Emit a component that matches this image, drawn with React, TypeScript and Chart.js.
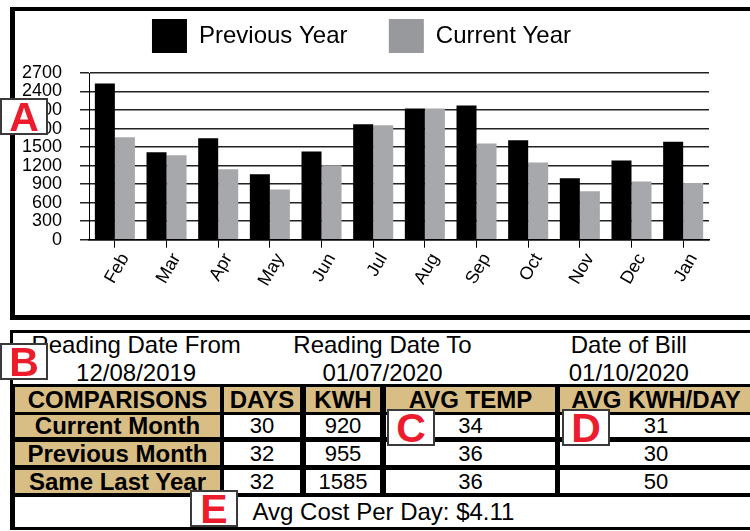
import React, { useEffect, useRef } from "react";
import { Chart, registerables } from "chart.js";

Chart.register(...registerables);

const months = ["Feb", "Mar", "Apr", "May", "Jun", "Jul", "Aug", "Sep", "Oct", "Nov", "Dec", "Jan"];
const previousYear = [2530, 1415, 1645, 1060, 1430, 1870, 2125, 2175, 1610, 995, 1285, 1585];
const currentYear = [1660, 1370, 1140, 815, 1205, 1855, 2125, 1560, 1250, 785, 945, 920];
const seriesLabels = ["Previous Year", "Current Year"];
const yMin = 0;
const yMax = 2700;
const yStep = 300;

const readingHeaders = ["Reading Date From", "Reading Date To", "Date of Bill"];
const readingDates = ["12/08/2019", "01/07/2020", "01/10/2020"];
const comparisonHeaders = ["COMPARISONS", "DAYS", "KWH", "AVG TEMP", "AVG KWH/DAY"];
const comparisonRows = ["Current Month", "Previous Month", "Same Last Year"];
const daysValues = [30, 32, 32];
const kwhValues = [920, 955, 1585];
const avgTempValues = [34, 36, 36];
const avgKwhPerDay = [31, 30, 50];
const avgCostText = "Avg Cost Per Day: $4.11";

const FONT = "'Liberation Sans', Arial, Helvetica, sans-serif";
const TAN = "#d8bd84";
const RED = "#ec1c2c";

const colLeft = [15, 224, 306, 386, 560];
const colRight = [220, 300, 380, 555, 752];
const rowTop = [387, 415, 442, 470];
const rowBottom = [412, 437, 465, 493];

const CANVAS_LEFT = -3;
const CANVAS_TOP = 11;
const CANVAS_W = 713;
const CANVAS_H = 304;

function BarChart() {
  const ref = useRef<HTMLCanvasElement>(null);
  useEffect(() => {
    if (!ref.current) return;
    Chart.defaults.font.family = FONT;
    const legendTweak = {
      id: "legendTweak",
      beforeInit(chart: any) {
        const legend = chart.legend;
        if (!legend) return;
        const fit = legend.fit;
        legend.fit = function () {
          fit.call(this);
          this.height += 10;
        };
        const draw = legend.draw;
        legend.draw = function () {
          this.ctx.save();
          this.ctx.translate(5, 0);
          draw.call(this);
          this.ctx.restore();
        };
      },
    };
    const chart = new Chart(ref.current, {
      type: "bar",
      data: {
        labels: months,
        datasets: [
          { label: seriesLabels[0], data: previousYear, backgroundColor: "#000000", borderWidth: 0 },
          { label: seriesLabels[1], data: currentYear, backgroundColor: "#a7a8ab", borderWidth: 0 },
        ],
      },
      plugins: [legendTweak],
      options: {
        responsive: false,
        animation: false,
        devicePixelRatio: 1,
        layout: { padding: { left: 7, right: 1, top: 0, bottom: 23 } },
        datasets: { bar: { categoryPercentage: 0.775, barPercentage: 1 } },
        plugins: {
          tooltip: { enabled: false },
          legend: {
            position: "top",
            labels: {
              boxWidth: 35,
              boxHeight: 34,
              padding: 8,
              color: "#000",
              font: { size: 24, family: FONT },
              generateLabels: (c: any) => {
                const items = (Chart.defaults.plugins.legend.labels as any).generateLabels(c);
                items[0].text = items[0].text + "     ";
                if (items[1]) items[1].fillStyle = "#98999c";
                return items.map((i: any) => ({ ...i, lineWidth: 0 }));
              },
            },
          },
        },
        scales: {
          x: {
            grid: { display: true, drawOnChartArea: false, offset: false, tickLength: 8, color: "#000" },
            border: { color: "#000", width: 1.5 },
            ticks: {
              color: "#000",
              font: { size: 18, family: FONT },
              minRotation: 60,
              maxRotation: 60,
              autoSkip: false,
              padding: 2,
              labelOffset: 10,
            },
          },
          y: {
            min: yMin,
            max: yMax,
            ticks: {
              stepSize: yStep,
              autoSkip: false,
              color: "#000",
              font: { size: 18, family: FONT },
              padding: 18,
              callback: (v: any) => String(v),
            },
            grid: { color: "#222", lineWidth: 1.5, tickLength: 9 },
            border: { color: "#000" },
          },
        },
      },
    } as any);
    return () => chart.destroy();
  }, []);
  return (
    <canvas
      ref={ref}
      width={CANVAS_W}
      height={CANVAS_H}
      style={{ position: "absolute", left: CANVAS_LEFT, top: CANVAS_TOP, width: CANVAS_W, height: CANVAS_H }}
    />
  );
}

function Marker({ letter, left, top }: { letter: string; left: number; top: number }) {
  return (
    <div
      style={{
        position: "absolute",
        left,
        top,
        width: 44,
        height: 33,
        border: "2.5px solid #3a3a3a",
        background: "#fff",
        color: RED,
        fontWeight: 700,
        fontSize: 41,
        lineHeight: "34px",
        textAlign: "center",
        fontFamily: FONT,
        zIndex: 5,
      }}
    >
      {letter}
    </div>
  );
}

function Cell({
  left,
  top,
  width,
  height,
  bg,
  bold,
  size,
  children,
}: {
  left: number;
  top: number;
  width: number;
  height: number;
  bg: string;
  bold?: boolean;
  size: number;
  children: React.ReactNode;
}) {
  return (
    <div
      style={{
        position: "absolute",
        left,
        top,
        width,
        height,
        background: bg,
        display: "flex",
        alignItems: "center",
        justifyContent: "center",
        fontWeight: bold ? 700 : 400,
        fontSize: size,
        lineHeight: 1,
        whiteSpace: "nowrap",
        overflow: "visible",
        color: "#000",
      }}
    >
      {children}
    </div>
  );
}

export default function App() {
  const dataCols = [daysValues, kwhValues, avgTempValues, avgKwhPerDay];
  const thirdW = (752 - 13) / 3;
  return (
    <div
      style={{
        position: "fixed",
        left: 0,
        top: 0,
        width: 750,
        height: 531,
        overflow: "hidden",
        background: "#fff",
        fontFamily: FONT,
      }}
    >
      <div
        style={{
          position: "absolute",
          left: 10,
          top: 7,
          width: 760,
          height: 313,
          boxSizing: "border-box",
          borderTop: "4px solid #000",
          borderLeft: "5px solid #000",
          borderBottom: "5px solid #000",
          borderRight: "5px solid #000",
        }}
      />
      <BarChart />

      <div
        style={{
          position: "absolute",
          left: 10,
          top: 330,
          width: 745,
          height: 200,
          boxSizing: "border-box",
          border: "3px solid #000",
        }}
      />
      {readingHeaders.map((h, i) => (
        <div
          key={h}
          style={{
            position: "absolute",
            left: 13 + i * thirdW,
            top: 331,
            width: thirdW,
            textAlign: "center",
            fontSize: 24,
            lineHeight: "28px",
            color: "#000",
          }}
        >
          <div>{h}</div>
          <div>{readingDates[i]}</div>
        </div>
      ))}

      <div style={{ position: "absolute", left: 13, top: 384, width: 742, height: 143, background: "#000" }} />
      {comparisonHeaders.map((h, c) => (
        <Cell
          key={h}
          left={colLeft[c]}
          top={rowTop[0]}
          width={colRight[c] - colLeft[c]}
          height={rowBottom[0] - rowTop[0]}
          bg={TAN}
          bold
          size={24}
        >
          {h}
        </Cell>
      ))}
      {comparisonRows.map((r, ri) => (
        <React.Fragment key={r}>
          <Cell
            left={colLeft[0]}
            top={rowTop[ri + 1]}
            width={colRight[0] - colLeft[0]}
            height={rowBottom[ri + 1] - rowTop[ri + 1]}
            bg={TAN}
            bold
            size={24}
          >
            {r}
          </Cell>
          {dataCols.map((vals, ci) => (
            <Cell
              key={ci}
              left={colLeft[ci + 1]}
              top={rowTop[ri + 1]}
              width={colRight[ci + 1] - colLeft[ci + 1]}
              height={rowBottom[ri + 1] - rowTop[ri + 1]}
              bg="#fff"
              size={22}
            >
              {vals[ri]}
            </Cell>
          ))}
        </React.Fragment>
      ))}
      <Cell left={15} top={497} width={737} height={30} bg="#fff" size={24}>
        {avgCostText}
      </Cell>

      <Marker letter="A" left={0} top={98} />
      <Marker letter="B" left={0} top={343} />
      <Marker letter="C" left={387} top={409} />
      <Marker letter="D" left={562} top={409} />
      <Marker letter="E" left={190} top={490} />
    </div>
  );
}
